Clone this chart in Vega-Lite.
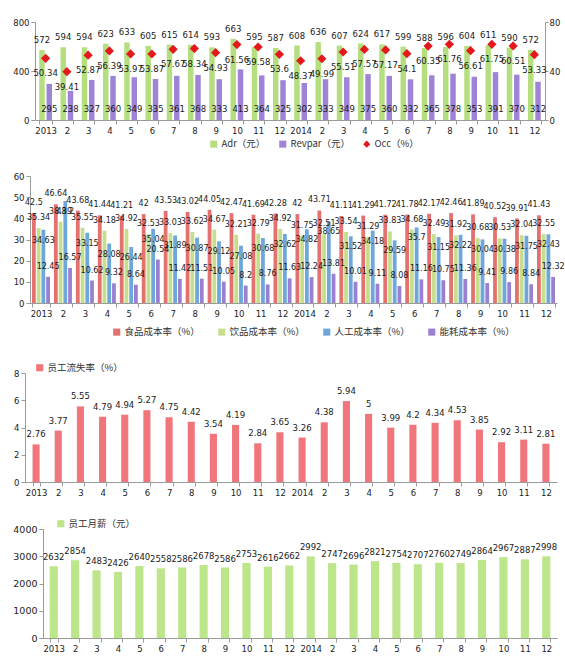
{
  "$schema": "https://vega.github.io/schema/vega-lite/v6.json",
  "padding": {"top": 18, "left": 5, "right": 0, "bottom": 0},
  "background": "white",
  "config": {
    "view": {"stroke": null},
    "font": "DejaVu Sans",
    "axis": {"domainColor": "#9a9a9a", "tickColor": "#9a9a9a", "labelColor": "#222222", "labelFontSize": 8.5, "grid": false, "tickSize": 4, "labelPadding": 2, "labelOverlap": false},
    "legend": {"labelFont": "Noto Sans CJK SC", "labelFontSize": 9.5, "labelColor": "#333333", "symbolSize": 50, "symbolStrokeWidth": 0},
    "text": {"fontSize": 8.5, "color": "#1a1a1a"}
  },
  "datasets": {
    "p1": [
      {"m":"2013-1","s":"Adr（元）","v":572},{"m":"2013-1","s":"Revpar（元）","v":295},{"m":"2013-1","s":"Occ（%）","v":50.34},
      {"m":"2013-2","s":"Adr（元）","v":594},{"m":"2013-2","s":"Revpar（元）","v":238},{"m":"2013-2","s":"Occ（%）","v":39.41},
      {"m":"2013-3","s":"Adr（元）","v":594},{"m":"2013-3","s":"Revpar（元）","v":327},{"m":"2013-3","s":"Occ（%）","v":52.87},
      {"m":"2013-4","s":"Adr（元）","v":623},{"m":"2013-4","s":"Revpar（元）","v":360},{"m":"2013-4","s":"Occ（%）","v":56.39},
      {"m":"2013-5","s":"Adr（元）","v":633},{"m":"2013-5","s":"Revpar（元）","v":349},{"m":"2013-5","s":"Occ（%）","v":53.97},
      {"m":"2013-6","s":"Adr（元）","v":605},{"m":"2013-6","s":"Revpar（元）","v":335},{"m":"2013-6","s":"Occ（%）","v":53.87},
      {"m":"2013-7","s":"Adr（元）","v":615},{"m":"2013-7","s":"Revpar（元）","v":361},{"m":"2013-7","s":"Occ（%）","v":57.67},
      {"m":"2013-8","s":"Adr（元）","v":614},{"m":"2013-8","s":"Revpar（元）","v":368},{"m":"2013-8","s":"Occ（%）","v":58.34},
      {"m":"2013-9","s":"Adr（元）","v":593},{"m":"2013-9","s":"Revpar（元）","v":333},{"m":"2013-9","s":"Occ（%）","v":54.93},
      {"m":"2013-10","s":"Adr（元）","v":663},{"m":"2013-10","s":"Revpar（元）","v":413},{"m":"2013-10","s":"Occ（%）","v":61.56},
      {"m":"2013-11","s":"Adr（元）","v":595},{"m":"2013-11","s":"Revpar（元）","v":364},{"m":"2013-11","s":"Occ（%）","v":59.58},
      {"m":"2013-12","s":"Adr（元）","v":587},{"m":"2013-12","s":"Revpar（元）","v":325},{"m":"2013-12","s":"Occ（%）","v":53.6},
      {"m":"2014-1","s":"Adr（元）","v":608},{"m":"2014-1","s":"Revpar（元）","v":302},{"m":"2014-1","s":"Occ（%）","v":48.37},
      {"m":"2014-2","s":"Adr（元）","v":636},{"m":"2014-2","s":"Revpar（元）","v":333},{"m":"2014-2","s":"Occ（%）","v":49.99},
      {"m":"2014-3","s":"Adr（元）","v":607},{"m":"2014-3","s":"Revpar（元）","v":349},{"m":"2014-3","s":"Occ（%）","v":55.51},
      {"m":"2014-4","s":"Adr（元）","v":624},{"m":"2014-4","s":"Revpar（元）","v":375},{"m":"2014-4","s":"Occ（%）","v":57.57},
      {"m":"2014-5","s":"Adr（元）","v":617},{"m":"2014-5","s":"Revpar（元）","v":360},{"m":"2014-5","s":"Occ（%）","v":57.17},
      {"m":"2014-6","s":"Adr（元）","v":599},{"m":"2014-6","s":"Revpar（元）","v":332},{"m":"2014-6","s":"Occ（%）","v":54.1},
      {"m":"2014-7","s":"Adr（元）","v":588},{"m":"2014-7","s":"Revpar（元）","v":365},{"m":"2014-7","s":"Occ（%）","v":60.35},
      {"m":"2014-8","s":"Adr（元）","v":596},{"m":"2014-8","s":"Revpar（元）","v":378},{"m":"2014-8","s":"Occ（%）","v":61.76},
      {"m":"2014-9","s":"Adr（元）","v":604},{"m":"2014-9","s":"Revpar（元）","v":353},{"m":"2014-9","s":"Occ（%）","v":56.61},
      {"m":"2014-10","s":"Adr（元）","v":611},{"m":"2014-10","s":"Revpar（元）","v":391},{"m":"2014-10","s":"Occ（%）","v":61.75},
      {"m":"2014-11","s":"Adr（元）","v":590},{"m":"2014-11","s":"Revpar（元）","v":370},{"m":"2014-11","s":"Occ（%）","v":60.51},
      {"m":"2014-12","s":"Adr（元）","v":572},{"m":"2014-12","s":"Revpar（元）","v":312},{"m":"2014-12","s":"Occ（%）","v":53.33}
    ],
    "p2": [
      {"m":"2013-1","s":"食品成本率（%）","v":42.5},{"m":"2013-1","s":"饮品成本率（%）","v":35.34},{"m":"2013-1","s":"人工成本率（%）","v":34.63},{"m":"2013-1","s":"能耗成本率（%）","v":12.45},
      {"m":"2013-2","s":"食品成本率（%）","v":46.64},{"m":"2013-2","s":"饮品成本率（%）","v":38.39},{"m":"2013-2","s":"人工成本率（%）","v":48.2},{"m":"2013-2","s":"能耗成本率（%）","v":16.57},
      {"m":"2013-3","s":"食品成本率（%）","v":43.68},{"m":"2013-3","s":"饮品成本率（%）","v":35.55},{"m":"2013-3","s":"人工成本率（%）","v":33.15},{"m":"2013-3","s":"能耗成本率（%）","v":10.62},
      {"m":"2013-4","s":"食品成本率（%）","v":41.44},{"m":"2013-4","s":"饮品成本率（%）","v":34.18},{"m":"2013-4","s":"人工成本率（%）","v":28.08},{"m":"2013-4","s":"能耗成本率（%）","v":9.32},
      {"m":"2013-5","s":"食品成本率（%）","v":41.21},{"m":"2013-5","s":"饮品成本率（%）","v":34.92},{"m":"2013-5","s":"人工成本率（%）","v":26.44},{"m":"2013-5","s":"能耗成本率（%）","v":8.64},
      {"m":"2013-6","s":"食品成本率（%）","v":42},{"m":"2013-6","s":"饮品成本率（%）","v":32.53},{"m":"2013-6","s":"人工成本率（%）","v":35.04},{"m":"2013-6","s":"能耗成本率（%）","v":20.54},
      {"m":"2013-7","s":"食品成本率（%）","v":43.53},{"m":"2013-7","s":"饮品成本率（%）","v":33.03},{"m":"2013-7","s":"人工成本率（%）","v":31.89},{"m":"2013-7","s":"能耗成本率（%）","v":11.42},
      {"m":"2013-8","s":"食品成本率（%）","v":43.02},{"m":"2013-8","s":"饮品成本率（%）","v":33.62},{"m":"2013-8","s":"人工成本率（%）","v":30.87},{"m":"2013-8","s":"能耗成本率（%）","v":11.51},
      {"m":"2013-9","s":"食品成本率（%）","v":44.05},{"m":"2013-9","s":"饮品成本率（%）","v":34.67},{"m":"2013-9","s":"人工成本率（%）","v":29.12},{"m":"2013-9","s":"能耗成本率（%）","v":10.05},
      {"m":"2013-10","s":"食品成本率（%）","v":42.47},{"m":"2013-10","s":"饮品成本率（%）","v":32.21},{"m":"2013-10","s":"人工成本率（%）","v":27.08},{"m":"2013-10","s":"能耗成本率（%）","v":8.2},
      {"m":"2013-11","s":"食品成本率（%）","v":41.69},{"m":"2013-11","s":"饮品成本率（%）","v":32.79},{"m":"2013-11","s":"人工成本率（%）","v":30.68},{"m":"2013-11","s":"能耗成本率（%）","v":8.76},
      {"m":"2013-12","s":"食品成本率（%）","v":42.28},{"m":"2013-12","s":"饮品成本率（%）","v":34.92},{"m":"2013-12","s":"人工成本率（%）","v":32.62},{"m":"2013-12","s":"能耗成本率（%）","v":11.63},
      {"m":"2014-1","s":"食品成本率（%）","v":42},{"m":"2014-1","s":"饮品成本率（%）","v":31.75},{"m":"2014-1","s":"人工成本率（%）","v":34.82},{"m":"2014-1","s":"能耗成本率（%）","v":12.24},
      {"m":"2014-2","s":"食品成本率（%）","v":43.71},{"m":"2014-2","s":"饮品成本率（%）","v":32.51},{"m":"2014-2","s":"人工成本率（%）","v":38.65},{"m":"2014-2","s":"能耗成本率（%）","v":13.81},
      {"m":"2014-3","s":"食品成本率（%）","v":41.11},{"m":"2014-3","s":"饮品成本率（%）","v":33.54},{"m":"2014-3","s":"人工成本率（%）","v":31.52},{"m":"2014-3","s":"能耗成本率（%）","v":10.01},
      {"m":"2014-4","s":"食品成本率（%）","v":41.29},{"m":"2014-4","s":"饮品成本率（%）","v":31.29},{"m":"2014-4","s":"人工成本率（%）","v":34.18},{"m":"2014-4","s":"能耗成本率（%）","v":9.11},
      {"m":"2014-5","s":"食品成本率（%）","v":41.72},{"m":"2014-5","s":"饮品成本率（%）","v":33.83},{"m":"2014-5","s":"人工成本率（%）","v":29.59},{"m":"2014-5","s":"能耗成本率（%）","v":8.08},
      {"m":"2014-6","s":"食品成本率（%）","v":41.78},{"m":"2014-6","s":"饮品成本率（%）","v":34.68},{"m":"2014-6","s":"人工成本率（%）","v":35.7},{"m":"2014-6","s":"能耗成本率（%）","v":11.16},
      {"m":"2014-7","s":"食品成本率（%）","v":42.17},{"m":"2014-7","s":"饮品成本率（%）","v":32.49},{"m":"2014-7","s":"人工成本率（%）","v":31.15},{"m":"2014-7","s":"能耗成本率（%）","v":10.75},
      {"m":"2014-8","s":"食品成本率（%）","v":42.46},{"m":"2014-8","s":"饮品成本率（%）","v":31.92},{"m":"2014-8","s":"人工成本率（%）","v":32.22},{"m":"2014-8","s":"能耗成本率（%）","v":11.36},
      {"m":"2014-9","s":"食品成本率（%）","v":41.89},{"m":"2014-9","s":"饮品成本率（%）","v":30.68},{"m":"2014-9","s":"人工成本率（%）","v":30.04},{"m":"2014-9","s":"能耗成本率（%）","v":9.41},
      {"m":"2014-10","s":"食品成本率（%）","v":40.52},{"m":"2014-10","s":"饮品成本率（%）","v":30.53},{"m":"2014-10","s":"人工成本率（%）","v":30.38},{"m":"2014-10","s":"能耗成本率（%）","v":9.86},
      {"m":"2014-11","s":"食品成本率（%）","v":39.91},{"m":"2014-11","s":"饮品成本率（%）","v":32.04},{"m":"2014-11","s":"人工成本率（%）","v":31.75},{"m":"2014-11","s":"能耗成本率（%）","v":8.84},
      {"m":"2014-12","s":"食品成本率（%）","v":41.43},{"m":"2014-12","s":"饮品成本率（%）","v":32.55},{"m":"2014-12","s":"人工成本率（%）","v":32.43},{"m":"2014-12","s":"能耗成本率（%）","v":12.32}
    ],
    "p3": [
      {"m":"2013-1","s":"员工流失率（%）","v":2.76},{"m":"2013-2","s":"员工流失率（%）","v":3.77},{"m":"2013-3","s":"员工流失率（%）","v":5.55},{"m":"2013-4","s":"员工流失率（%）","v":4.79},
      {"m":"2013-5","s":"员工流失率（%）","v":4.94},{"m":"2013-6","s":"员工流失率（%）","v":5.27},{"m":"2013-7","s":"员工流失率（%）","v":4.75},{"m":"2013-8","s":"员工流失率（%）","v":4.42},
      {"m":"2013-9","s":"员工流失率（%）","v":3.54},{"m":"2013-10","s":"员工流失率（%）","v":4.19},{"m":"2013-11","s":"员工流失率（%）","v":2.84},{"m":"2013-12","s":"员工流失率（%）","v":3.65},
      {"m":"2014-1","s":"员工流失率（%）","v":3.26},{"m":"2014-2","s":"员工流失率（%）","v":4.38},{"m":"2014-3","s":"员工流失率（%）","v":5.94},{"m":"2014-4","s":"员工流失率（%）","v":5},
      {"m":"2014-5","s":"员工流失率（%）","v":3.99},{"m":"2014-6","s":"员工流失率（%）","v":4.2},{"m":"2014-7","s":"员工流失率（%）","v":4.34},{"m":"2014-8","s":"员工流失率（%）","v":4.53},
      {"m":"2014-9","s":"员工流失率（%）","v":3.85},{"m":"2014-10","s":"员工流失率（%）","v":2.92},{"m":"2014-11","s":"员工流失率（%）","v":3.11},{"m":"2014-12","s":"员工流失率（%）","v":2.81}
    ],
    "p4": [
      {"m":"2013-1","s":"员工月薪（元）","v":2632},{"m":"2013-2","s":"员工月薪（元）","v":2854},{"m":"2013-3","s":"员工月薪（元）","v":2483},{"m":"2013-4","s":"员工月薪（元）","v":2426},
      {"m":"2013-5","s":"员工月薪（元）","v":2640},{"m":"2013-6","s":"员工月薪（元）","v":2558},{"m":"2013-7","s":"员工月薪（元）","v":2586},{"m":"2013-8","s":"员工月薪（元）","v":2678},
      {"m":"2013-9","s":"员工月薪（元）","v":2586},{"m":"2013-10","s":"员工月薪（元）","v":2753},{"m":"2013-11","s":"员工月薪（元）","v":2616},{"m":"2013-12","s":"员工月薪（元）","v":2662},
      {"m":"2014-1","s":"员工月薪（元）","v":2992},{"m":"2014-2","s":"员工月薪（元）","v":2747},{"m":"2014-3","s":"员工月薪（元）","v":2696},{"m":"2014-4","s":"员工月薪（元）","v":2821},
      {"m":"2014-5","s":"员工月薪（元）","v":2754},{"m":"2014-6","s":"员工月薪（元）","v":2707},{"m":"2014-7","s":"员工月薪（元）","v":2760},{"m":"2014-8","s":"员工月薪（元）","v":2749},
      {"m":"2014-9","s":"员工月薪（元）","v":2864},{"m":"2014-10","s":"员工月薪（元）","v":2967},{"m":"2014-11","s":"员工月薪（元）","v":2887},{"m":"2014-12","s":"员工月薪（元）","v":2998}
    ]
  },
  "align": "none",
  "spacing": 26,
  "resolve": {"scale": {"color": "independent", "shape": "independent", "xOffset": "independent", "x": "independent", "y": "independent"}, "legend": {"color": "independent", "shape": "independent"}},
  "vconcat": [
    {
      "align": "none",
      "spacing": 23,
      "resolve": {"scale": {"color": "independent", "shape": "independent", "xOffset": "independent", "x": "independent", "y": "independent"}, "legend": {"color": "independent", "shape": "independent"}},
      "vconcat": [
        {
          "width": 520, "height": 98,
          "data": {"name": "p1"},
          "encoding": {
            "x": {"field": "m", "type": "nominal", "sort": null, "title": null,
                  "scale": {"range": [10, 520], "paddingInner": 0.4, "paddingOuter": 0.2},
                  "axis": {"labelAngle": 0, "tickBand": "extent", "labelExpr": "split(datum.value,'-')[1]=='1' ? split(datum.value,'-')[0] : split(datum.value,'-')[1]"}}
          },
          "layer": [
            {
              "transform": [{"filter": {"field": "s", "oneOf": ["Adr（元）", "Revpar（元）"]}}],
              "layer": [
                {
                  "mark": {"type": "bar"},
                  "encoding": {
                    "xOffset": {"field": "s", "type": "nominal", "sort": ["Adr（元）", "Revpar（元）"], "scale": {"domain": ["Adr（元）", "Revpar（元）"], "paddingInner": 0.25}},
                    "y": {"field": "v", "type": "quantitative", "title": null, "scale": {"domain": [0, 800]}, "axis": {"values": [0, 200, 400, 600, 800], "minExtent": 0, "offset": -10}},
                    "color": {"field": "s", "type": "nominal", "scale": {"domain": ["Adr（元）", "Revpar（元）", "Occ（%）"], "range": ["#b5de7e", "#9e84d6", "#e3191c"]},
                              "legend": {"title": null, "orient": "none", "legendX": 184, "legendY": 117, "direction": "horizontal", "columnPadding": 12, "labelOffset": 3}}
                  }
                },
                {
                  "transform": [{"filter": {"field": "s", "equal": "Adr（元）"}}],
                  "mark": {"type": "text", "baseline": "middle", "dy": -10},
                  "encoding": {
                    "xOffset": {"field": "s", "type": "nominal"},
                    "y": {"field": "v", "type": "quantitative"},
                    "text": {"field": "v", "type": "quantitative"}
                  }
                },
                {
                  "transform": [{"filter": {"field": "s", "equal": "Revpar（元）"}}],
                  "mark": {"type": "text", "baseline": "middle", "dy": -11},
                  "encoding": {
                    "xOffset": {"field": "s", "type": "nominal"},
                    "y": {"datum": 0},
                    "text": {"field": "v", "type": "quantitative"}
                  }
                }
              ]
            },
            {
              "transform": [{"filter": {"field": "s", "equal": "Occ（%）"}}],
              "layer": [
                {
                  "mark": {"type": "point", "filled": true, "size": 85, "opacity": 1},
                  "encoding": {
                    "y": {"field": "v", "type": "quantitative", "title": null, "scale": {"domain": [0, 80]}, "axis": {"orient": "right", "values": [0, 20, 40, 60, 80], "tickSize": 3, "labelPadding": 1, "minExtent": 0}},
                    "color": {"field": "s", "type": "nominal"},
                    "shape": {"field": "s", "type": "nominal", "scale": {"domain": ["Adr（元）", "Revpar（元）", "Occ（%）"], "range": ["square", "square", "diamond"]}}
                  }
                },
                {
                  "mark": {"type": "text", "baseline": "middle", "dy": 15},
                  "encoding": {
                    "y": {"field": "v", "type": "quantitative"},
                    "text": {"field": "v", "type": "quantitative"}
                  }
                }
              ]
            }
          ],
          "resolve": {"scale": {"y": "independent"}}
        },
        {
          "width": 532, "height": 127,
          "data": {"name": "p2"},
          "encoding": {
            "x": {"field": "m", "type": "nominal", "sort": null, "title": null,
                  "scale": {"range": [5, 532], "paddingInner": 0.18, "paddingOuter": 0.09},
                  "axis": {"labelAngle": 0, "tickBand": "extent", "labelExpr": "split(datum.value,'-')[1]=='1' ? split(datum.value,'-')[0] : split(datum.value,'-')[1]"}},
            "xOffset": {"field": "s", "type": "nominal", "sort": ["食品成本率（%）", "饮品成本率（%）", "人工成本率（%）", "能耗成本率（%）"], "scale": {"domain": ["食品成本率（%）", "饮品成本率（%）", "人工成本率（%）", "能耗成本率（%）"], "paddingInner": 0.2}},
            "y": {"field": "v", "type": "quantitative", "title": null, "scale": {"domain": [0, 60]}, "axis": {"values": [0, 10, 20, 30, 40, 50, 60], "minExtent": 0, "offset": -5}}
          },
          "layer": [
            {
              "mark": {"type": "bar"},
              "encoding": {
                "color": {"field": "s", "type": "nominal", "scale": {"domain": ["食品成本率（%）", "饮品成本率（%）", "人工成本率（%）", "能耗成本率（%）"], "range": ["#e2716f", "#c6df8d", "#6ea7db", "#9b80d2"]},
                          "legend": {"title": null, "orient": "none", "legendX": 87, "legendY": 151, "direction": "horizontal", "columnPadding": 17, "labelOffset": 3}}
              }
            },
            {
              "transform": [{"filter": {"field": "s", "oneOf": ["食品成本率（%）", "饮品成本率（%）", "能耗成本率（%）"]}}],
              "mark": {"type": "text", "baseline": "middle", "dy": -10, "fontSize": 8},
              "encoding": {"text": {"field": "v", "type": "quantitative"}}
            },
            {
              "transform": [{"filter": {"field": "s", "equal": "人工成本率（%）"}}],
              "mark": {"type": "text", "baseline": "middle", "dy": 11, "fontSize": 8},
              "encoding": {"text": {"field": "v", "type": "quantitative"}}
            }
          ]
        }
      ]
    },
    {
      "align": "none",
      "spacing": 22,
      "resolve": {"scale": {"color": "independent", "shape": "independent", "xOffset": "independent", "x": "independent", "y": "independent"}, "legend": {"color": "independent", "shape": "independent"}},
      "vconcat": [
        {
          "width": 532, "height": 109,
          "data": {"name": "p3"},
          "encoding": {
            "x": {"field": "m", "type": "nominal", "sort": null, "title": null,
                  "scale": {"paddingInner": 0.68, "paddingOuter": 0.34},
                  "axis": {"labelAngle": 0, "tickBand": "extent", "labelExpr": "split(datum.value,'-')[1]=='1' ? split(datum.value,'-')[0] : split(datum.value,'-')[1]"}},
            "y": {"field": "v", "type": "quantitative", "title": null, "scale": {"domain": [0, 8]}, "axis": {"values": [0, 2, 4, 6, 8], "minExtent": 20}}
          },
          "layer": [
            {
              "mark": {"type": "bar"},
              "encoding": {
                "color": {"field": "s", "type": "nominal", "scale": {"domain": ["员工流失率（%）"], "range": ["#f0767c"]},
                          "legend": {"title": null, "orient": "none", "legendX": 10, "legendY": -10, "labelOffset": 3}}
              }
            },
            {
              "mark": {"type": "text", "baseline": "middle", "dy": -10, "fontSize": 8.5},
              "encoding": {"text": {"field": "v", "type": "quantitative"}}
            }
          ]
        },
        {
          "width": 532, "height": 109,
          "data": {"name": "p4"},
          "encoding": {
            "x": {"field": "m", "type": "nominal", "sort": null, "title": null,
                  "scale": {"range": [18, 532], "paddingInner": 0.62, "paddingOuter": 0.31},
                  "axis": {"labelAngle": 0, "tickBand": "extent", "labelExpr": "split(datum.value,'-')[1]=='1' ? split(datum.value,'-')[0] : split(datum.value,'-')[1]"}},
            "y": {"field": "v", "type": "quantitative", "title": null, "scale": {"domain": [0, 4000]}, "axis": {"values": [0, 1000, 2000, 3000, 4000], "format": "d", "minExtent": 0, "offset": -18, "labelFontSize": 9.5}}
          },
          "layer": [
            {
              "mark": {"type": "bar"},
              "encoding": {
                "color": {"field": "s", "type": "nominal", "scale": {"domain": ["员工月薪（元）"], "range": ["#bde58a"]},
                          "legend": {"title": null, "orient": "none", "legendX": 31, "legendY": -10, "labelOffset": 3}}
              }
            },
            {
              "mark": {"type": "text", "baseline": "middle", "dy": -9, "fontSize": 8.5},
              "encoding": {"text": {"field": "v", "type": "quantitative", "format": "d"}}
            }
          ]
        }
      ]
    }
  ]
}
